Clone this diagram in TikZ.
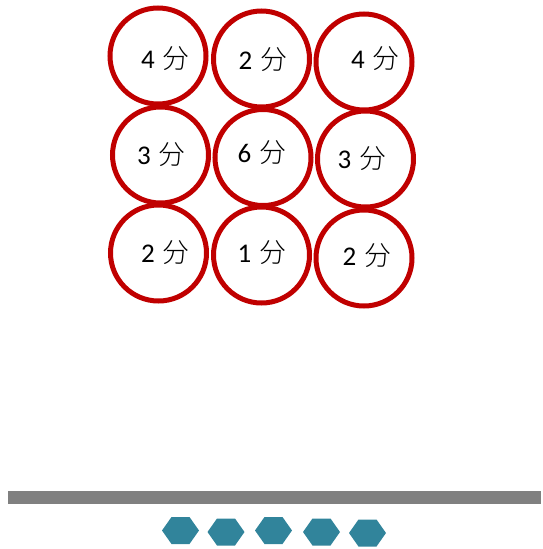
\documentclass[tikz,border=0pt]{standalone}
\usepackage{fontspec}
\setmainfont{Carlito}
\newfontfamily\cjk{Noto Sans CJK SC Light}
\usepackage{tikz}
\usetikzlibrary{positioning,calc}
\definecolor{ringred}{RGB}{192,0,0}
\definecolor{bargray}{RGB}{128,128,128}
\definecolor{hexteal}{RGB}{49,132,155}
\newcommand{\fen}[1]{#1\hspace{0.3em}{\cjk 分}}

\begin{document}
\begin{tikzpicture}[x=1pt,y=-1pt,
    ring/.style={circle, draw=ringred, line width=5pt, minimum size=96pt, inner sep=0pt},
    score/.style={font=\fontsize{27}{32}\selectfont, inner sep=0pt}]
    \useasboundingbox (0,0) rectangle (542,549);

    % ring grid
    \node[ring] (r11) at (158,56) {};
    \node[ring] (r12) at (261.5,59) {};
    \node[ring] (r13) at (364,62) {};
    \node[ring] (r21) at (160.5,155) {};
    \node[ring] (r22) at (263,157.5) {};
    \node[ring] (r23) at (365.5,159) {};
    \node[ring] (r31) at (158.5,253) {};
    \node[ring] (r32) at (261.5,255) {};
    \node[ring] (r33) at (364,258) {};

    % scores
    \node[score] (s11) at (165.5,59) {\fen{4}};
    \node[score] (s12) at (263,60) {\fen{2}};
    \node[score] (s13) at (375.5,59) {\fen{4}};
    \node[score] (s21) at (161.5,155) {\fen{3}};
    \node[score] (s22) at (262,153) {\fen{6}};
    \node[score] (s23) at (362,159) {\fen{3}};
    \node[score] (s31) at (165.5,253) {\fen{2}};
    \node[score] (s32) at (262,253) {\fen{1}};
    \node[score] (s33) at (367,256) {\fen{2}};

    % bar
    \fill[bargray] (8,491) rectangle (541,504);

    % hexagons
    \foreach \hx/\hy in {180.5/530.5, 226/532, 273.5/530.5, 321.5/532, 367.5/533}
        \fill[hexteal] (\hx-18.5,\hy) -- (\hx-9,\hy-13.5) -- (\hx+9,\hy-13.5)
            -- (\hx+18.5,\hy) -- (\hx+9,\hy+13.5) -- (\hx-9,\hy+13.5) -- cycle;
\end{tikzpicture}
\end{document}
